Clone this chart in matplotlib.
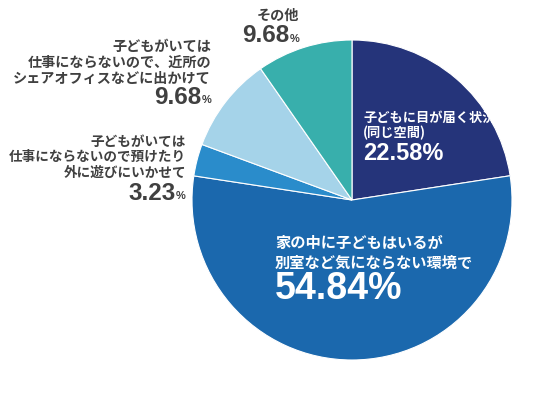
import numpy as np
import matplotlib.pyplot as plt

plt.rcParams['font.family'] = ['Noto Sans CJK JP', 'DejaVu Sans']

# data (clockwise from 12 o'clock)
labels = ['子どもに目が届く状況\n(同じ空間)',
          '家の中に子どもはいるが\n別室など気にならない環境で',
          '子どもがいては\n仕事にならないので預けたり\n外に遊びにいかせて',
          '子どもがいては\n仕事にならないので、近所の\nシェアオフィスなどに出かけて',
          'その他']
values = [22.58, 54.84, 3.23, 9.68, 9.68]
colors = ['#25347a', '#1b68ad', '#2a8ccb', '#a5d3e9', '#38afac']

W, H = 550, 398
fig = plt.figure(figsize=(W / 100, H / 100), dpi=100)
ax = fig.add_axes([0, 0, 1, 1])
ax.set_xlim(0, W)
ax.set_ylim(0, H)
ax.axis('off')

def Y(py):
    return H - py

ax.pie(values, colors=colors, startangle=90, counterclock=False,
       center=(352, Y(200)), radius=160,
       wedgeprops=dict(edgecolor='white', linewidth=0.8))
ax.set_aspect('equal')
ax.set_xlim(0, W)
ax.set_ylim(0, H)

gray = '#404040'
num_font = ['Liberation Sans', 'DejaVu Sans']

# inside labels
ax.text(363, Y(118), labels[0].split('\n')[0], color='white', fontsize=9.5,
        fontweight='bold', va='center')
ax.text(363, Y(133), labels[0].split('\n')[1], color='white', fontsize=9.5,
        fontweight='bold', va='center')
ax.text(363, Y(153), f'{values[0]:.2f}%', color='white', fontsize=17,
        fontweight='bold', va='center', family=num_font)

for i, line in enumerate(labels[1].split('\n')):
    ax.text(275, Y(243 + i * 19), line, color='white', fontsize=11,
            fontweight='bold', va='center')
ax.text(275, Y(289), f'{values[1]:.2f}%', color='white', fontsize=27,
        fontweight='bold', va='center', family=num_font)

# outside labels: right edge, first line y, line step, number y
def outside(i, xr, y0, step, ynum, fs):
    for j, line in enumerate(labels[i].split('\n')):
        ax.text(xr, Y(y0 + j * step), line, color=gray, fontsize=fs,
                fontweight='bold', ha='right', va='center')
    ax.text(xr, Y(ynum + 3), '%', color=gray, fontsize=8,
            fontweight='bold', ha='right', va='center', family=num_font)
    ax.text(xr - 10, Y(ynum), f'{values[i]:.2f}', color=gray, fontsize=17.5,
            fontweight='bold', ha='right', va='center', family=num_font)

outside(2, 186, 142, 15.2, 193, 9.8)
outside(3, 211, 47, 16, 97, 10.2)
outside(4, 299, 16, 16, 36, 10.2)

fig.savefig('out.png', dpi=100)
